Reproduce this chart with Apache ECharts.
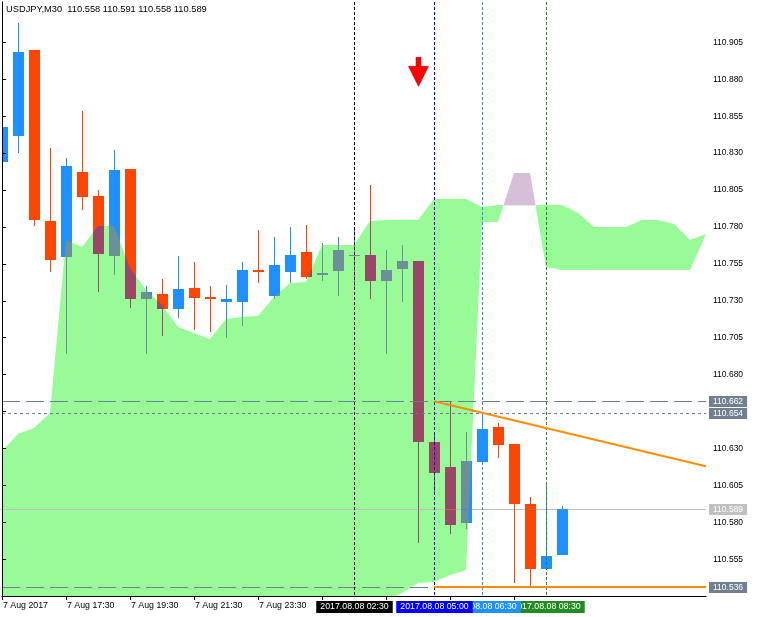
<!DOCTYPE html>
<html><head><meta charset="utf-8">
<style>html,body{margin:0;padding:0;background:#fff}#c{width:759px;height:617px}</style>
<script src="https://cdn.jsdelivr.net/npm/echarts@6/dist/echarts.min.js"></script>
</head><body><div id="c"></div>
<script>
// ---------- data ----------
const symbolName = 'USDJPY,M30';
const lastQuote = [110.558, 110.591, 110.558, 110.589];

const barIndex = [0,1,2,3,4,5,6,7,8,9,10,11,12,13,14,15,16,17,18,19,20,21,22,23,24,25,26,27,28,29,30,31,32,33,34,35];
const openPrices  = [110.8240,110.8416,110.8998,110.7840,110.7596,110.8172,110.8009,110.7603,110.8192,110.7312,110.7346,110.7244,110.7386,110.7325,110.7292,110.7292,110.7508,110.7332,110.7495,110.7630,110.7474,110.7501,110.7606,110.7610,110.7434,110.7515,110.7569,110.6346,110.6175,110.5795,110.6208,110.6445,110.6330,110.5924,110.5484,110.558];
const highPrices  = [110.8477,110.9181,110.8998,110.8334,110.8267,110.8585,110.8050,110.8321,110.8192,110.7400,110.7447,110.7603,110.7562,110.7400,110.7407,110.7562,110.7779,110.7732,110.7800,110.7813,110.7691,110.7732,110.7779,110.8084,110.7644,110.7678,110.7569,110.6400,110.6620,110.6410,110.6547,110.6472,110.6330,110.5971,110.6059,110.591];
const lowPrices   = [110.8240,110.8300,110.7806,110.7495,110.6940,110.7915,110.7359,110.7474,110.7251,110.6940,110.7062,110.7183,110.7102,110.7089,110.7048,110.7129,110.7420,110.7312,110.7420,110.7447,110.7434,110.7332,110.7393,110.7312,110.6940,110.7292,110.5660,110.5985,110.5721,110.5755,110.6208,110.6236,110.5389,110.5360,110.5484,110.558];
const closePrices = [110.8477,110.8984,110.7847,110.7576,110.8212,110.8003,110.7617,110.8185,110.7312,110.7359,110.7244,110.7380,110.7319,110.7312,110.7312,110.7508,110.7495,110.7542,110.7610,110.7461,110.7488,110.7644,110.7610,110.7434,110.7508,110.7569,110.6346,110.6134,110.5782,110.6215,110.6432,110.6324,110.5924,110.5484,110.5572,110.589];

// Ichimoku cloud (shifted forward)
const cloudIndex = [0,1,2,3,4,5,6,7,8,9,10,11,12,13,14,15,16,17,18,19,20,21,22,23,24,25,26,27,28,29,30,31,32,33,34,35,36,37,38,39,40,41,42,43,44];
const spanA = [110.6283,110.6398,110.6439,110.6540,110.7711,110.7664,110.7806,110.7806,110.7522,110.7373,110.7271,110.7122,110.7082,110.7041,110.7177,110.7190,110.7197,110.7326,110.7420,110.7427,110.7678,110.7678,110.7678,110.7840,110.7847,110.7847,110.7847,110.7989,110.7989,110.7989,110.7935,110.7948,110.7945,110.7945,110.7948,110.7948,110.7894,110.7800,110.7800,110.7800,110.7847,110.7847,110.7820,110.7711,110.7752];
const spanB = [110.5165,110.5165,110.5165,110.5165,110.5165,110.5165,110.5165,110.5165,110.5165,110.5165,110.5165,110.5165,110.5165,110.5165,110.5165,110.5165,110.5165,110.5165,110.5165,110.5165,110.5165,110.5165,110.5165,110.5165,110.5270,110.5321,110.5389,110.5396,110.5443,110.5477,110.7833,110.7833,110.8165,110.8165,110.7529,110.7508,110.7508,110.7508,110.7508,110.7508,110.7508,110.7508,110.7508,110.7508,110.7752];

// axes
const xTickIdx = [0,4,8,12,16,20,24,28,32];
const xLabelIdx = [0,4,8,12,16];
const xTickLabels = ['7 Aug 2017','7 Aug 17:30','7 Aug 19:30','7 Aug 21:30','7 Aug 23:30','8 Aug 01:30','8 Aug 03:30','8 Aug 05:30','8 Aug 07:30'];
const yTickValues = [110.555,110.580,110.605,110.630,110.655,110.680,110.705,110.730,110.755,110.780,110.805,110.830,110.855,110.880,110.905];
const yLabelValues = [110.555,110.580,110.605,110.630,110.680,110.705,110.730,110.755,110.780,110.805,110.830,110.855,110.880,110.905];

// objects
const vLineIdx = [22, 27, 30, 34];
const vLineLabels = ['2017.08.08 02:30','2017.08.08 05:00','2017.08.08 06:30','2017.08.08 08:30'];
const levelPrices = [110.662, 110.654, 110.589, 110.536];
const trendLines = [[27, 110.662, 44, 110.6179], [27, 110.536, 44, 110.536]];
const arrowSignals = [[26, 110.885]];

// ---------- rendering ----------
const X_MAX = 44, Y_MIN = 110.5301, Y_MAX = 110.9323;
const FONT = '"Liberation Sans", Arial, sans-serif';
const chart = echarts.init(document.getElementById('c'), null, {renderer: 'canvas'});

function cloudItem(params, api) {
  if (params.dataIndex !== 0) return null;
  const n = cloudIndex.length;
  const seq = [];
  for (let i = 0; i < n; i++) {
    seq.push({x: cloudIndex[i], a: spanA[i], b: spanB[i]});
    if (i < n - 1) {
      const d0 = spanA[i] - spanB[i], d1 = spanA[i + 1] - spanB[i + 1];
      if (d0 * d1 < 0) {
        const t = d0 / (d0 - d1);
        const v = spanA[i] + t * (spanA[i + 1] - spanA[i]);
        seq.push({x: cloudIndex[i] + t, a: v, b: v, cross: true});
      }
    }
  }
  const runs = []; let cur = [seq[0]];
  for (let k = 1; k < seq.length; k++) {
    cur.push(seq[k]);
    if (seq[k].cross) { runs.push(cur); cur = [seq[k]]; }
  }
  runs.push(cur);
  const children = runs.map(run => {
    const ref = run.find(p => !p.cross);
    const up = ref.a >= ref.b;
    const upper = run.map(p => api.coord([p.x, p.a]));
    const lower = run.slice().reverse().map(p => api.coord([p.x, p.b]));
    return {type: 'polygon', shape: {points: upper.concat(lower)}, style: {fill: up ? '#98FB98' : '#D8BFD8'}};
  });
  return {type: 'group', children};
}

function levelItem(params, api) {
  const styles = [
    {color: '#708090', dash: [18, 6]},
    {color: '#708090', dash: [3, 3]},
    {color: '#C0C0C0', dash: null},
    {color: '#708090', dash: [18, 6]}
  ];
  const p = api.value(1);
  const a = api.coord([0, p]), b = api.coord([X_MAX, p]);
  const y = Math.round(a[1]) + 0.5;
  const st = styles[params.dataIndex];
  const style = {stroke: st.color, lineWidth: 1};
  if (st.dash) style.lineDash = st.dash;
  return {type: 'line', shape: {x1: a[0], y1: y, x2: b[0], y2: y}, style};
}

function candleItem(params, api) {
  const i = api.value(0), o = api.value(1), h = api.value(2), l = api.value(3), c = api.value(4);
  const x = Math.round(api.coord([i, o])[0]);
  const yO = Math.round(api.coord([i, o])[1]), yC = Math.round(api.coord([i, c])[1]);
  const yH = Math.round(api.coord([i, h])[1]), yL = Math.round(api.coord([i, l])[1]);
  const bull = c >= o;
  // colours are inverted because the series uses the 'exclusion' blend:
  // over white they show as dodgerblue / orangered, over the cloud they mix.
  const col = bull ? '#E16F00' : '#00BAFF';
  const top = Math.min(yO, yC);
  const bh = Math.max(1, Math.abs(yO - yC));
  const ch = [];
  if (top > yH) ch.push({type: 'rect', shape: {x: x, y: yH, width: 1, height: top - yH}, style: {fill: col}});
  if (yL > top + bh) ch.push({type: 'rect', shape: {x: x, y: top + bh, width: 1, height: yL - top - bh}, style: {fill: col}});
  ch.push({type: 'rect', shape: {x: x - 5, y: top, width: 11, height: bh}, style: {fill: col}});
  return {type: 'group', children: ch};
}

function vLineItem(params, api) {
  const colors = ['#000000', '#0000FF', '#1E90FF', '#228B22'];
  const v = api.value(0);
  const a = api.coord([v, Y_MAX]), b = api.coord([v, Y_MIN]);
  const x = Math.round(a[0]) + 0.5;
  return {type: 'line', shape: {x1: x, y1: a[1], x2: x, y2: b[1]},
    style: {stroke: colors[params.dataIndex], lineWidth: 1, lineDash: [3, 2]}};
}

function trendItem(params, api) {
  const a = api.coord([api.value(0), api.value(1)]);
  const b = api.coord([api.value(2), api.value(3)]);
  let y1 = a[1], y2 = b[1];
  if (api.value(1) === api.value(3)) { y1 = y2 = Math.round(a[1]); }
  return {type: 'line', shape: {x1: a[0], y1, x2: b[0], y2}, style: {stroke: '#FF8C00', lineWidth: 2}};
}

function arrowItem(params, api) {
  const p = api.coord([api.value(0), api.value(1)]);
  const cx = Math.round(p[0]) + 0.5, cy = p[1];
  const pts = [[cx - 2.5, cy - 14.5], [cx + 2.5, cy - 14.5], [cx + 2.5, cy - 5.5], [cx + 10, cy - 5.5],
               [cx, cy + 14.5], [cx - 10, cy - 5.5], [cx - 2.5, cy - 5.5]];
  return {type: 'polygon', shape: {points: pts}, style: {fill: '#FF0000', stroke: '#C80000', lineWidth: 0.6}};
}

function priceTagItem(params, api) {
  const bg = ['#708090', '#708090', '#C0C0C0', '#708090'];
  const p = api.value(1);
  const a = api.coord([X_MAX, p]);
  return {type: 'text', x: a[0] + 3, y: Math.round(a[1]) + 0.5, z2: 5,
    style: {text: p.toFixed(3), fill: '#ffffff', font: '8.5px ' + FONT, backgroundColor: bg[params.dataIndex],
      padding: [1, 4, 1, 4], lineHeight: 9, align: 'left', verticalAlign: 'middle'}};
}

function timeTagItem(params, api) {
  const bg = ['#000000', '#0000FF', '#1E90FF', '#228B22'];
  const v = api.value(0);
  const b = api.coord([v, Y_MIN]);
  return {type: 'text', x: Math.round(b[0]) + 0.5, y: b[1] + 5, z2: 10 - params.dataIndex,
    style: {text: vLineLabels[params.dataIndex], fill: '#ffffff', font: '8.8px ' + FONT,
      backgroundColor: bg[params.dataIndex], padding: [1, 4, 1, 4], lineHeight: 10,
      align: 'center', verticalAlign: 'top'}};
}

const candleData = barIndex.map((i, k) => [i, openPrices[k], highPrices[k], lowPrices[k], closePrices[k]]);
const cloudData = cloudIndex.map((i, k) => [i, spanA[k], spanB[k]]);

chart.setOption({
  animation: false,
  backgroundColor: '#ffffff',
  textStyle: {fontFamily: FONT},
  title: {
    text: symbolName + '  ' + lastQuote.map(v => v.toFixed(3)).join(' '),
    left: 1, top: 0,
    textStyle: {fontSize: 9.3, fontWeight: 'normal', color: '#000', fontFamily: FONT}
  },
  grid: {left: 2, right: 53, top: 2, bottom: 21, containLabel: false},
  xAxis: {
    type: 'value', min: 0, max: X_MAX, z: 10,
    axisLine: {show: true, lineStyle: {color: '#000', width: 1}},
    axisTick: {show: true, length: 4, lineStyle: {color: '#000'}, customValues: xTickIdx},
    axisLabel: {customValues: xLabelIdx, align: 'left', margin: 5, color: '#000', fontSize: 8.8,
      fontFamily: FONT, padding: [0, 0, 0, 1],
      formatter: v => xTickLabels[xTickIdx.indexOf(Math.round(v))]},
    splitLine: {show: false}
  },
  yAxis: [{
    type: 'value', position: 'right', min: Y_MIN, max: Y_MAX, z: 10,
    axisLine: {show: true, lineStyle: {color: '#000', width: 1}},
    axisTick: {show: true, length: 4, lineStyle: {color: '#000'}, customValues: yTickValues},
    axisLabel: {customValues: yLabelValues, margin: 7, color: '#000', fontSize: 8.5, fontFamily: FONT,
      formatter: v => v.toFixed(3)},
    splitLine: {show: false}
  }, {
    type: 'value', position: 'left', min: Y_MIN, max: Y_MAX, z: 10,
    axisLine: {show: true, onZero: false, lineStyle: {color: '#000', width: 1}},
    axisTick: {show: false}, axisLabel: {show: false}, splitLine: {show: false}
  }],
  series: [
    {type: 'custom', name: 'cloud', z: 1, clip: true, silent: true, renderItem: cloudItem, data: cloudData},
    {type: 'custom', name: 'levels', z: 2, clip: true, silent: true, renderItem: levelItem,
      data: levelPrices.map((p, k) => [k, p])},
    {type: 'custom', name: 'candles', z: 3, clip: true, silent: true, blendMode: 'exclusion',
      renderItem: candleItem, data: candleData, encode: {x: 0, y: [1, 2, 3, 4]}},
    {type: 'custom', name: 'vlines', z: 4, clip: true, silent: true, renderItem: vLineItem,
      data: vLineIdx.map(v => [v, Y_MIN])},
    {type: 'custom', name: 'trend', z: 4, clip: true, silent: true, renderItem: trendItem, data: trendLines},
    {type: 'custom', name: 'arrow', z: 4, clip: true, silent: true, renderItem: arrowItem, data: arrowSignals},
    {type: 'custom', name: 'priceTags', z: 11, clip: false, silent: true, renderItem: priceTagItem,
      data: levelPrices.map((p, k) => [k, p])},
    {type: 'custom', name: 'timeTags', z: 11, clip: false, silent: true, renderItem: timeTagItem,
      data: vLineIdx.map(v => [v, Y_MIN])}
  ]
});
</script>
</body></html>
